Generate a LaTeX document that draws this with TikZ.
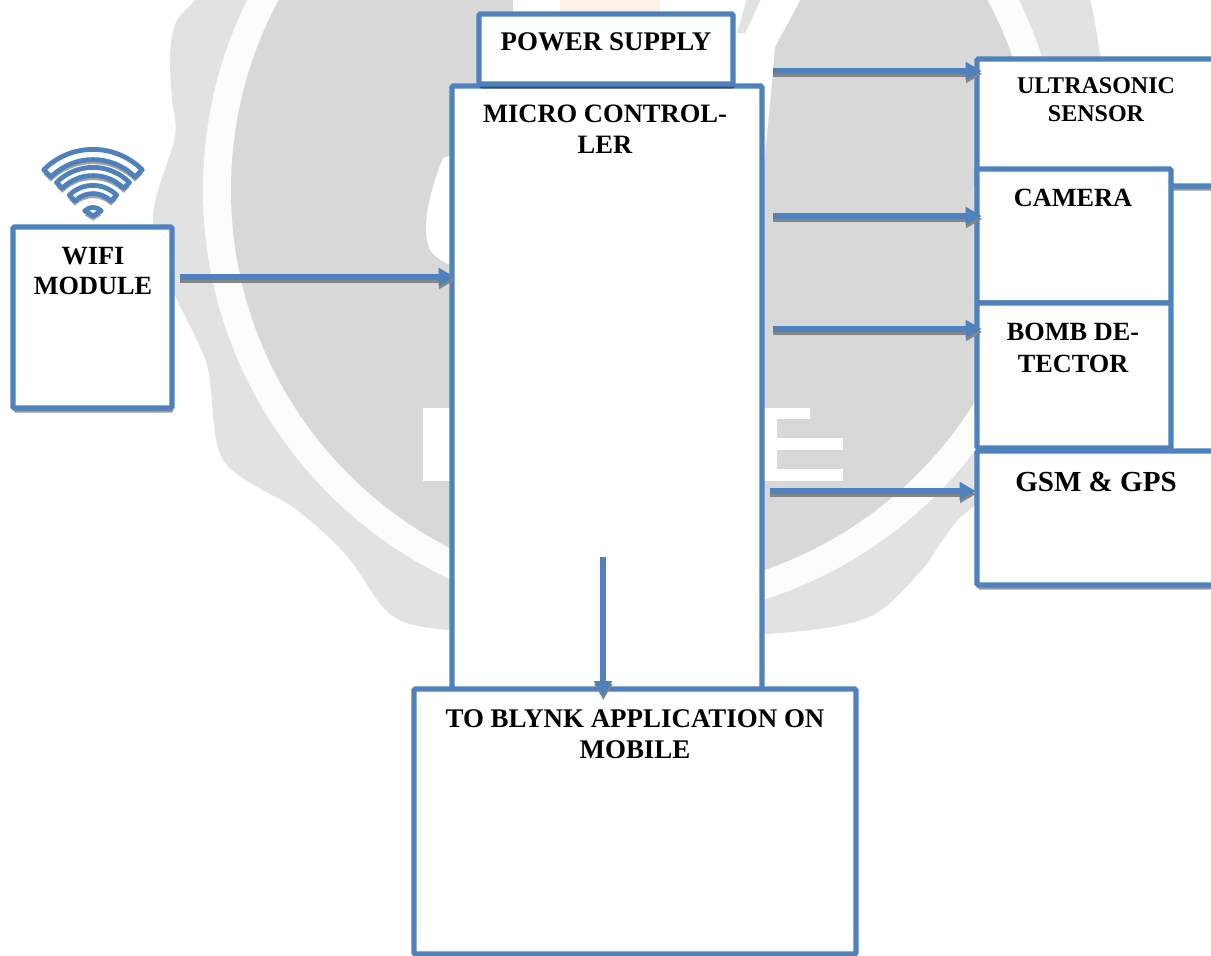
\documentclass[tikz,border=0pt]{standalone}
\usepackage{fontspec}
\setmainfont{Liberation Serif}
\usetikzlibrary{arrows.meta, shadows}

\definecolor{boxblue}{HTML}{4F81BD}
\definecolor{markgray}{HTML}{D8D8D8}
\definecolor{marklight}{HTML}{E2E2E2}
\definecolor{markorange}{HTML}{FBF1E6}

\newcommand{\textsize}[2]{\fontsize{#1}{#2}\selectfont}

\tikzset{
  blockbox/.style = {draw = boxblue, line width = 3.9pt, fill = white, rounded corners = 1pt, inner sep = 0pt, outer sep = 0pt,
    drop shadow = {shadow xshift = 0.8pt, shadow yshift = -3.4pt, fill = black, opacity = 0.4}},
  boxtext/.style = {align = center, inner sep = 0pt, anchor = base},
  flow/.style = {draw = boxblue, line width = 3.9pt, -{Triangle[length = 12pt, width = 13pt]},
    preaction = {draw = black!48, line width = 3.9pt, transform canvas = {xshift = 0.3pt, yshift = -2.2pt}}},
  wifiband/.style = {draw = boxblue, line width = 3.6pt, fill = white, line join = round,
    drop shadow = {shadow xshift = 0pt, shadow yshift = -3.4pt, fill = black, opacity = 0.35}}
}

\begin{document}
\begin{tikzpicture}[x = 0.75pt, y = -0.75pt]

    \useasboundingbox (0,0) rectangle (1211,956);
    \clip (0,0) rectangle (1211,956);

    %watermark behind the diagram
    \fill[marklight] plot[smooth cycle] coordinates {(205,-15) (195,0) (176,22) (170,54) (172,100) (175,137) (153,216) (173,290) (207,365)
      (223,460) (297,510) (347,556) (390,614) (447,630) (600,635) (767,634) (867,618) (920,572) (960,518)
      (1040,450) (1120,300) (1108,100) (1100,54) (1090,0) (1070,-30) (620,-40)};
    \fill[white!99!black] (633,190) circle (430);
    \fill[markgray] (633,190) circle (402);

    %logo and letters in the watermark
    \fill[white] (443,158) .. controls (430,190) and (420,230) .. (430,250) .. controls (436,258) and (446,266) .. (470,270) -- (470,150) -- cycle;
    \fill[white] (423,408) rectangle (460,481);
    \fill[white] (750,408) rectangle (810,419);
    \fill[white] (750,408) rectangle (777,481);
    \fill[white] (750,438) rectangle (843,450);
    \fill[white] (750,469) rectangle (843,481);
    \fill[white] (513,-5) -- (803,-5) -- (775,47) -- (770,104) -- (764,166) -- (513,166) -- cycle;
    \fill[marklight] (748,-5) -- (763,-5) -- (745,33) -- (737,33) -- cycle;
    \fill[markorange] (560,-5) rectangle (660,14);

    %blocks on the right
    \node (ultra) at (977,59) [blockbox, anchor = north west, minimum width = 300*0.75pt, minimum height = 127*0.75pt] {};
    \node (camera) at (977,169) [blockbox, anchor = north west, minimum width = 194*0.75pt, minimum height = 134*0.75pt] {};
    \node (bomb) at (977,303) [blockbox, anchor = north west, minimum width = 194*0.75pt, minimum height = 145*0.75pt] {};
    \node (gsm) at (977,451) [blockbox, anchor = north west, minimum width = 300*0.75pt, minimum height = 134*0.75pt] {};

    %blocks in the middle
    \node (micro) at (452,86) [blockbox, anchor = north west, minimum width = 310*0.75pt, minimum height = 610*0.75pt] {};
    \node (power) at (479,14) [blockbox, anchor = north west, minimum width = 254*0.75pt, minimum height = 70*0.75pt] {};
    \node (blynk) at (414,689) [blockbox, anchor = north west, minimum width = 442*0.75pt, minimum height = 265*0.75pt] {};
    \node (wifi) at (13,227) [blockbox, anchor = north west, minimum width = 159*0.75pt, minimum height = 181*0.75pt] {};

    %wifi sign on top of its block
    \begin{scope}[shift = {(93,219)}, x = 0.75pt, y = 0.75pt]
      \path[wifiband] (45:69.6) arc (45:135:69.6) -- (135:59.4) arc (135:45:59.4) -- cycle;
      \path[wifiband] (45:51.6) arc (45:135:51.6) -- (135:43.4) arc (135:45:43.4) -- cycle;
      \path[wifiband] (45:33.6) arc (45:135:33.6) -- (135:25.4) arc (135:45:25.4) -- cycle;
      \path[wifiband] (45:11.6) arc (45:135:11.6) -- (0,3) -- cycle;
    \end{scope}

    %block texts
    \node (wifitext) at (93,294) [boxtext, font = \bfseries\textsize{19.7}{22.5}] {WIFI\\MODULE};
    \node (powertext) at (606,51) [boxtext, font = \bfseries\textsize{20.2}{23}] {POWER SUPPLY};
    \node (microtext) at (605,153) [boxtext, font = \bfseries\textsize{19.9}{23.2}] {MICRO CONTROL-\\LER};
    \node (blynktext) at (635,758) [boxtext, font = \bfseries\textsize{20.2}{23.2}] {TO BLYNK APPLICATION ON\\MOBILE};
    \node (ultratext) at (1096,122) [boxtext, font = \bfseries\textsize{18}{21}] {ULTRASONIC\\SENSOR};
    \node (cameratext) at (1073,206) [boxtext, font = \bfseries\textsize{19.7}{22}] {CAMERA};
    \node (bombtext) at (1073,372) [boxtext, font = \bfseries\textsize{19.7}{24}] {BOMB DE-\\TECTOR};
    \node (gsmtext) at (1096,491) [boxtext, font = \bfseries\textsize{21.8}{24}] {GSM \& GPS};

    %free ends of the arrows
    \path (180,277) coordinate (W);
    \path (773,71) coordinate (U);
    \path (773,216) coordinate (C);
    \path (773,329) coordinate (B);
    \path (770,491) coordinate (G);
    \path (603,557) coordinate (M);

    \draw[flow, shorten >= -2pt] (W) -- (W -| micro.west);
    \draw[flow, shorten >= -3.5pt] (U) -- (U -| ultra.west);
    \draw[flow, shorten >= -3.5pt] (C) -- (C -| camera.west);
    \draw[flow, shorten >= -3.5pt] (B) -- (B -| bomb.west);
    \draw[flow, shorten >= 1pt] (G) -- (G -| gsm.west);
    \draw[flow, shorten >= -6pt] (M) -- (M |- blynk.north);

\end{tikzpicture}
\end{document}
